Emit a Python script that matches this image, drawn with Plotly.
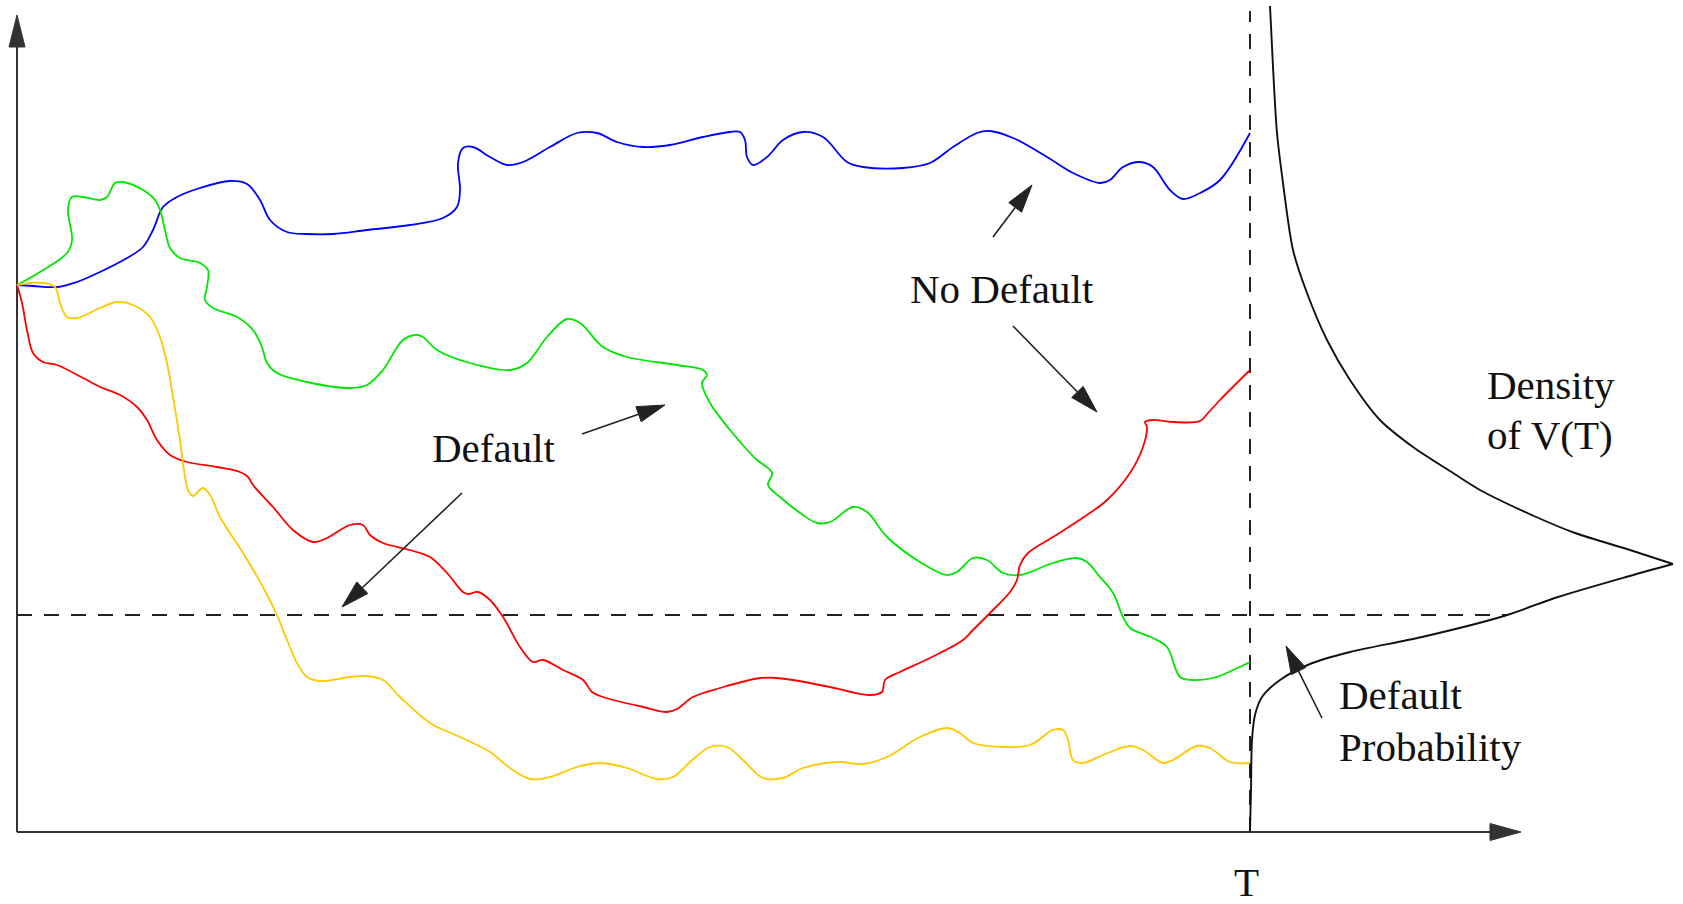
import numpy as np
import plotly.graph_objects as go

# Time runs from 0 to maturity T; V is the firm value. Units are arbitrary.
T = 1233
V0 = 547
BARRIER = 217

# Four simulated firm-value paths V(t)
blue_t = [0, 16, 41, 60, 83, 110, 126, 136, 146, 160, 183, 213, 230, 243, 253, 270, 290, 316, 350, 393,
          426, 440, 443, 441, 446, 456, 473, 490, 506, 533, 560, 580, 600, 626, 653, 686, 713, 723, 728,
          730, 736, 750, 766, 786, 806, 830, 846, 886, 913, 936, 960, 973, 996, 1030, 1056, 1083, 1093,
          1106, 1123, 1136, 1153, 1166, 1183, 1203, 1233]
blue_v = [547, 546, 545, 550, 560, 574, 585, 602, 625, 635, 644, 651, 648, 632, 612, 600, 598, 598, 602, 607,
          614, 625, 642, 669, 684, 685, 675, 667, 670, 685, 699, 699, 690, 685, 687, 695, 700, 700, 692,
          675, 667, 675, 692, 700, 695, 670, 665, 664, 669, 685, 699, 701, 694, 675, 659, 649, 652,
          665, 670, 665, 642, 633, 639, 652, 699]

green_t = [0, 23, 50, 55, 51, 55, 66, 83, 90, 98, 106, 126, 138, 143, 148, 153, 163, 183, 191, 190, 188,
           196, 220, 236, 245, 250, 260, 290, 333, 350, 366, 386, 400, 406, 420, 453, 493, 510, 530, 550,
           563, 586, 610, 660, 686, 690, 685, 693, 713, 733, 740, 755, 751, 763, 786, 800, 813, 836, 850,
           870, 903, 930, 940, 956, 970, 986, 1003, 1036, 1060, 1070, 1083, 1096, 1106, 1113, 1136, 1150,
           1163, 1176, 1196, 1233]
green_v = [547, 560, 579, 592, 622, 635, 635, 632, 635, 649, 650, 642, 632, 622, 602, 584, 574, 569, 562, 545,
           532, 524, 515, 502, 485, 469, 459, 450, 444, 447, 462, 492, 497, 495, 482, 469, 462, 469, 495, 513,
           509, 485, 475, 467, 462, 457, 449, 429, 402, 379, 372, 359, 347, 335, 317, 309, 310, 325, 320,
           295, 270, 257, 260, 274, 272, 259, 257, 269, 274, 270, 255, 239, 215, 204, 194, 185,
           155, 152, 154, 170]

red_t = [0, 5, 10, 16, 26, 40, 66, 83, 103, 120, 130, 140, 153, 170, 200, 223, 231, 236, 256, 276, 296,
         310, 333, 346, 353, 366, 393, 413, 430, 446, 451, 461, 473, 486, 503, 516, 526, 546, 566, 575, 586,
         626, 650, 660, 676, 703, 743, 760, 813, 830, 853, 865, 868, 883, 913, 946, 956, 973, 993, 1000,
         1003, 1011, 1036, 1070, 1090, 1113, 1126, 1130, 1128, 1136, 1156, 1183, 1191, 1203, 1233]
red_v = [547, 529, 502, 479, 470, 467, 454, 445, 437, 425, 412, 392, 377, 370, 365, 360, 355, 347, 325, 302, 290,
         294, 307, 307, 297, 289, 282, 275, 259, 240, 238, 240, 232, 215, 185, 170, 172, 162, 152, 140, 135,
         125, 120, 123, 135, 144, 154, 154, 145, 141, 137, 140, 152, 160, 174, 192, 202, 219, 240, 252,
         267, 279, 295, 317, 332, 359, 385, 405, 410, 412, 410, 411, 419, 432, 462]

yellow_t = [0, 13, 26, 38, 43, 50, 60, 83, 100, 116, 133, 143, 150, 156, 163, 166, 171, 176, 186, 193, 203,
            226, 246, 260, 270, 280, 290, 303, 333, 350, 366, 383, 413, 443, 473, 493, 513, 533, 560, 583,
            610, 640, 656, 673, 693, 710, 726, 746, 766, 786, 820, 846, 870, 903, 930, 943, 956, 986, 1013,
            1036, 1046, 1051, 1056, 1066, 1086, 1113, 1126, 1146, 1156, 1180, 1193, 1213, 1233]
yellow_v = [547, 549, 549, 545, 529, 515, 514, 524, 530, 527, 515, 495, 469, 435, 392, 369, 342, 336, 344, 337, 315,
            279, 245, 217, 192, 169, 155, 151, 155, 156, 152, 135, 109, 95, 80, 64, 53, 55, 65, 69,
            64, 53, 55, 70, 85, 85, 72, 54, 54, 64, 70, 68, 75, 95, 104, 99, 89, 85, 87,
            102, 102, 92, 72, 69, 77, 86, 82, 69, 72, 86, 84, 70, 69]

# Density of V(T), drawn sideways from t = T: upper branch, then lower branch
dens_upper_v = [826, 765, 699, 649, 582, 539, 492, 452, 412, 385, 359, 342, 316, 299, 282, 268]
dens_upper = [20, 23, 27, 33, 43, 57, 77, 100, 130, 163, 203, 230, 284, 325, 380, 423]
dens_lower_v = [268, 255, 235, 216, 195, 180, 168, 152, 135, 117, 92, 42, 1]
dens_lower = [423, 376, 308, 254, 172, 100, 60, 30, 12, 5, 2, 1, 0]

# Label arrows: (tail_t, tail_v) -> (tip_t, tip_v)
arrows = [
    ((976, 595), (1015, 647)),    # No Default -> blue path
    ((996, 506), (1080, 420)),    # No Default -> red path
    ((565, 398), (648, 427)),     # Default -> green path
    ((445, 339), (325, 225)),     # Default -> barrier
    ((1305, 114), (1269, 186)),   # Default Probability -> density tail
]

AXIS_TOP = 817
AXIS_RIGHT = 1504

INK = "#222222"
FONT = dict(family="Liberation Serif, Times New Roman, serif", size=41, color="#111111")

fig = go.Figure()


def add_line(t, v, color, width=1.8, dash=None, shape="spline", smoothing=1.0):
    fig.add_trace(go.Scatter(
        x=t, y=v, mode="lines",
        line=dict(color=color, width=width, dash=dash, shape=shape,
                  smoothing=smoothing if shape == "spline" else None),
        hoverinfo="skip", showlegend=False,
    ))


def add_arrow(tail, tip, color=INK, width=1.6, head_len=28, head_half=8):
    tail = np.asarray(tail, dtype=float)
    tip = np.asarray(tip, dtype=float)
    d = tip - tail
    d /= np.hypot(*d)
    n = np.array([-d[1], d[0]])
    base = tip - head_len * d
    add_line([tail[0], base[0]], [tail[1], base[1]], color, width=width, shape="linear")
    head = np.array([tip, base + head_half * n, base - head_half * n, tip])
    fig.add_trace(go.Scatter(
        x=head[:, 0], y=head[:, 1], mode="lines", fill="toself",
        fillcolor=color, line=dict(color=color, width=1),
        hoverinfo="skip", showlegend=False,
    ))


# Coordinate axes with arrow heads
add_arrow((0, 0), (0, AXIS_TOP), color="#333333", width=2, head_len=32, head_half=8)
add_arrow((0, 0), (AXIS_RIGHT, 0), color="#333333", width=2, head_len=31, head_half=8.5)

# Default barrier, ending where it meets the density curve
barrier_end = T + np.interp(BARRIER, dens_lower_v[::-1], dens_lower[::-1])
add_line([0, barrier_end], [BARRIER, BARRIER], INK, width=2, dash="15px,12px", shape="linear")
# Maturity line
add_line([T, T], [0, 821], INK, width=2, dash="15px,12px", shape="linear")

# Firm value paths
add_line(blue_t, blue_v, "#0000ff")
add_line(green_t, green_v, "#00e600")
add_line(red_t, red_v, "#ff0000")
add_line(yellow_t, yellow_v, "#ffc800")

# Density of V(T)
add_line(T + np.array(dens_upper), dens_upper_v, "#111111", width=1.9, smoothing=0.8)
add_line(T + np.array(dens_lower), dens_lower_v, "#111111", width=1.9, smoothing=0.8)

for tail, tip in arrows:
    add_arrow(tail, tip)

labels = [
    ("No Default", 985, 543, "center"),
    ("Default", 477, 384, "center"),
    ("Density", 1468, 447, "left"),
    ("of V(T)", 1468, 397, "left"),
    ("Default", 1320, 137, "left"),
    ("Probability", 1320, 85, "left"),
    ("T", 1229, -50, "center"),
]
for text, x, y, anchor in labels:
    fig.add_annotation(x=x, y=y, text=text, showarrow=False, xanchor=anchor,
                       yanchor="middle", font=FONT)

fig.update_layout(
    width=1683, height=904,
    margin=dict(l=0, r=0, t=0, b=0),
    paper_bgcolor="white", plot_bgcolor="white",
    showlegend=False,
    xaxis=dict(range=[-17, 1666], visible=False, fixedrange=True),
    yaxis=dict(range=[-72, 832], visible=False, fixedrange=True),
)

fig.write_html("out.html")
